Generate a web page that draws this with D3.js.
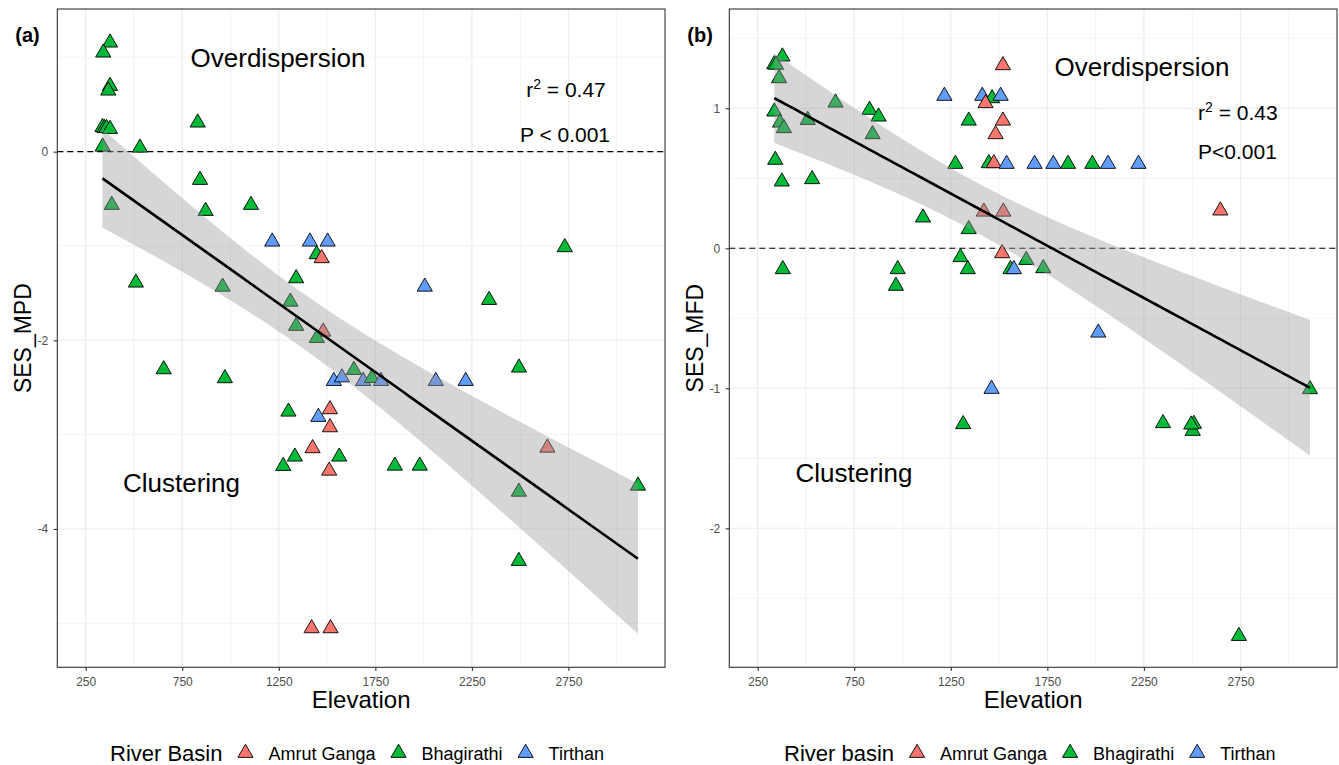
<!DOCTYPE html>
<html>
<head>
<meta charset="utf-8">
<script src="https://cdn.jsdelivr.net/npm/d3@7"></script>
<style>
  body { margin: 0; background: #fff; }
  text { font-family: "Liberation Sans", Arial, sans-serif; }
</style>
</head>
<body>
<svg id="chart" width="1339" height="765"></svg>
<script>
const basins = ['Amrut Ganga', 'Bhagirathi', 'Tirthan']
const basinColours = ['#F8766D', '#00BA38', '#619CFF']
const xTicks = [250, 750, 1250, 1750, 2250, 2750]

// (a) SES_MPD against elevation. basin: 0 Amrut Ganga, 1 Bhagirathi, 2 Tirthan
const mpdElev = [376, 341, 376, 367, 337, 347, 358, 376, 338, 531, 830, 842, 385, 871, 1106,
  1216, 1411, 1503, 1446, 1472, 510, 959, 1340, 1310, 1340, 1480, 1447, 654, 971, 1639,
  1535, 1577, 1687, 1732, 1780, 2063, 2218, 2494, 1300, 1515, 1455, 1515, 1425, 1333, 1273,
  1563, 1511, 1420, 1518, 2006, 2339, 2731, 1851, 1980, 2641, 2493, 3110, 2493]
const mpdValue = [1.156, 1.050, 0.697, 0.647, 0.26, 0.25, 0.25, 0.24, 0.053, 0.042, 0.308, -0.30, -0.565, -0.629, -0.565,
  -0.954, -0.954, -0.954, -1.088, -1.130, -1.389, -1.432, -1.343, -1.591, -1.848, -1.909, -1.976, -2.308, -2.403, -2.315,
  -2.432, -2.394, -2.432, -2.40, -2.432, -2.432, -2.432, -2.29, -2.757, -2.732, -2.813, -2.923, -3.145, -3.234, -3.333,
  -3.234, -3.383, -5.054, -5.054, -1.432, -1.573, -1.014, -3.33, -3.33, -3.139, -3.606, -3.542, -4.340]
const mpdBasin = [1, 1, 1, 1, 1, 1, 1, 1, 1, 1, 1, 1, 1, 1, 1,
  2, 2, 2, 1, 0, 1, 1, 1, 1, 1, 0, 1, 1, 1, 1,
  2, 2, 2, 1, 2, 2, 2, 1, 1, 0, 2, 0, 0, 1, 1,
  1, 0, 0, 0, 2, 1, 1, 1, 1, 0, 1, 1, 1]

// (b) SES_MFD against elevation
const mfdElev = [378, 336, 345, 361, 336, 366, 386, 509, 653, 829, 876, 845, 341, 375, 532,
  1106, 1343, 1274, 1343, 1217, 1413, 1464, 1430, 1508, 1520, 1520, 1482, 1447, 1473, 1539,
  1684, 1781, 1857, 1983, 2064, 2222, 1421, 1522, 1516, 1641, 1300, 1338, 1559, 1577, 380,
  975, 966, 1729, 2646, 2014, 1461, 1314, 2349, 2509, 2503, 3110, 2742, 2495]
const mfdValue = [1.369, 1.314, 1.31, 1.214, 0.976, 0.897, 0.857, 0.916, 1.04, 0.988, 0.94, 0.814, 0.631, 0.476, 0.493,
  0.219, 0.136, 0.602, 0.911, 1.088, 1.088, 1.071, 1.036, 1.088, 1.307, 0.911, 0.814, 0.607, 0.607, 0.602,
  0.602, 0.602, 0.602, 0.602, 0.602, 0.602, 0.261, 0.261, -0.036, -0.084, -0.064, -0.15, -0.15, -0.15, -0.15,
  -0.15, -0.269, -0.143, 0.269, -0.603, -1.005, -1.257, -1.25, -1.255, -1.305, -1.007, -2.77, -1.26]
const mfdBasin = [1, 1, 1, 1, 1, 1, 1, 1, 1, 1, 1, 1, 1, 1, 1,
  1, 1, 1, 1, 2, 2, 1, 0, 2, 0, 0, 0, 1, 0, 2,
  2, 2, 1, 1, 2, 2, 0, 0, 0, 1, 1, 1, 1, 2, 1,
  1, 1, 1, 0, 2, 2, 1, 1, 1, 1, 1, 1, 1]

const svg = d3.select('#chart')
const panelTop = 9
const panelBottom = 667.3
const panelWidth = 607.7
const triangle = d3.symbol(d3.symbolTriangle, 100)

function linearFit(xs, ys) {
  const n = xs.length
  const mx = d3.mean(xs)
  const my = d3.mean(ys)
  let sxx = 0, sxy = 0
  xs.forEach((x, i) => {
    sxx += (x - mx) ** 2
    sxy += (x - mx) * (ys[i] - my)
  })
  const slope = sxy / sxx
  const intercept = my - slope * mx
  let sse = 0
  xs.forEach((x, i) => { sse += (ys[i] - intercept - slope * x) ** 2 })
  const s = Math.sqrt(sse / (n - 2))
  return { slope, intercept, mx, sxx, s, n }
}

function drawPanel(p) {
  const g = svg.append('g')
  const x = d3.scaleLinear().domain([103, 3250]).range([p.left, p.left + panelWidth])
  const y = d3.scaleLinear().domain(p.yDomain).range([panelBottom, panelTop])

  // grid
  const xMinor = d3.range(500, 3251, 500)
  g.selectAll('.xminor').data(xMinor).join('line')
    .attr('x1', d => x(d)).attr('x2', d => x(d))
    .attr('y1', panelTop).attr('y2', panelBottom)
    .attr('stroke', '#ebebeb').attr('stroke-width', 0.6)
  g.selectAll('.yminor').data(p.yMinor).join('line')
    .attr('x1', p.left).attr('x2', p.left + panelWidth)
    .attr('y1', d => y(d)).attr('y2', d => y(d))
    .attr('stroke', '#ebebeb').attr('stroke-width', 0.6)
  g.selectAll('.xmajor').data(xTicks).join('line')
    .attr('x1', d => x(d)).attr('x2', d => x(d))
    .attr('y1', panelTop).attr('y2', panelBottom)
    .attr('stroke', '#ebebeb').attr('stroke-width', 1.1)
  g.selectAll('.ymajor').data(p.yTicks).join('line')
    .attr('x1', p.left).attr('x2', p.left + panelWidth)
    .attr('y1', d => y(d)).attr('y2', d => y(d))
    .attr('stroke', '#ebebeb').attr('stroke-width', 1.1)

  // reference line at zero
  g.append('line')
    .attr('x1', p.left).attr('x2', p.left + panelWidth)
    .attr('y1', y(0)).attr('y2', y(0))
    .attr('stroke', '#000').attr('stroke-width', 1.2)
    .attr('stroke-dasharray', '6,4')

  // points
  const pts = p.elev.map((e, i) => ({ e, v: p.value[i], b: p.basin[i] }))
  g.selectAll('.pt').data(pts).join('path')
    .attr('d', triangle)
    .attr('transform', d => `translate(${x(d.e)},${y(d.v)})`)
    .attr('fill', d => basinColours[d.b])
    .attr('stroke', '#000').attr('stroke-width', 0.9)

  // lm fit with 95% band
  const fit = linearFit(p.elev, p.value)
  const tCrit = 2.004
  const [xmin, xmax] = d3.extent(p.elev)
  const xs = d3.range(0, 81).map(i => xmin + (xmax - xmin) * i / 80)
  const band = xs.map(xv => {
    const f = fit.intercept + fit.slope * xv
    const se = fit.s * Math.sqrt(1 / fit.n + (xv - fit.mx) ** 2 / fit.sxx)
    return { xv, f, lo: f - tCrit * se, hi: f + tCrit * se }
  })
  g.append('path').datum(band)
    .attr('d', d3.area().x(d => x(d.xv)).y0(d => y(d.lo)).y1(d => y(d.hi)))
    .attr('fill', '#999999').attr('fill-opacity', 0.4)
  g.append('path').datum(band)
    .attr('d', d3.line().x(d => x(d.xv)).y(d => y(d.f)))
    .attr('fill', 'none').attr('stroke', '#000').attr('stroke-width', 2.6)

  // border
  g.append('rect')
    .attr('x', p.left).attr('y', panelTop)
    .attr('width', panelWidth).attr('height', panelBottom - panelTop)
    .attr('fill', 'none').attr('stroke', '#333').attr('stroke-width', 1.1)

  // axes
  const xAxis = g.append('g').attr('transform', `translate(0,${panelBottom})`)
    .call(d3.axisBottom(x).tickValues(xTicks).tickSize(3.7).tickPadding(6).tickFormat(d => String(d)))
  const yAxis = g.append('g').attr('transform', `translate(${p.left},0)`)
    .call(d3.axisLeft(y).tickValues(p.yTicks).tickSize(3.7).tickPadding(5.3).tickFormat(d => String(d)))
  ;[xAxis, yAxis].forEach(a => {
    a.select('.domain').remove()
    a.selectAll('.tick line').attr('stroke', '#333').attr('stroke-width', 1.1)
    a.selectAll('.tick text').attr('fill', '#4d4d4d').style('font-size', '12px')
      .style('font-family', '"Liberation Sans", Arial, sans-serif')
  })

  // axis titles
  g.append('text').attr('x', p.left + panelWidth / 2).attr('y', 708)
    .attr('text-anchor', 'middle').style('font-size', '24px').text('Elevation')
  g.append('text')
    .attr('transform', `translate(${p.left - 26},${(panelTop + panelBottom) / 2}) rotate(-90)`)
    .attr('text-anchor', 'middle').style('font-size', '23px').text(p.ylabel)

  // panel letter
  g.append('text').attr('x', p.left - 42).attr('y', 41.5)
    .style('font-size', '20px').style('font-weight', 'bold').text(p.letter)

  // annotations
  g.append('text').attr('x', p.over[0]).attr('y', p.over[1])
    .attr('text-anchor', 'middle').style('font-size', '26px').text('Overdispersion')
  g.append('text').attr('x', p.clus[0]).attr('y', p.clus[1])
    .attr('text-anchor', 'middle').style('font-size', '26px').text('Clustering')
  const r2 = g.append('text').attr('x', p.r2[0]).attr('y', p.r2[1])
    .attr('text-anchor', p.anchor).style('font-size', '21px')
  r2.append('tspan').text('r')
  r2.append('tspan').attr('dy', -8).style('font-size', '14px').text('2')
  r2.append('tspan').attr('dy', 8).text(' = ' + p.r2Text)
  g.append('text').attr('x', p.pv[0]).attr('y', p.pv[1])
    .attr('text-anchor', p.anchor).style('font-size', '21px').text(p.pText)

  // legend
  const lg = g.append('g')
  let cx = p.legendLeft
  const title = lg.append('text').attr('x', cx).attr('y', 761)
    .style('font-size', '22px').text(p.legendTitle)
  cx += title.node().getComputedTextLength() + 23
  basins.forEach((b, i) => {
    lg.append('path').attr('d', triangle)
      .attr('transform', `translate(${cx},753)`)
      .attr('fill', basinColours[i]).attr('stroke', '#000').attr('stroke-width', 0.9)
    const t = lg.append('text').attr('x', cx + 23).attr('y', 760)
      .style('font-size', '18px').text(b)
    cx += 23 + t.node().getComputedTextLength() + 23
  })
}

drawPanel({
  left: 57.3, yDomain: [-5.467, 1.513], yTicks: [0, -2, -4], yMinor: [1, -1, -3, -5],
  elev: mpdElev, value: mpdValue, basin: mpdBasin,
  ylabel: 'SES_MPD', letter: '(a)', legendTitle: 'River Basin', legendLeft: 110,
  over: [278, 67], clus: [181.5, 492], r2: [566, 97], pv: [565, 142], anchor: 'middle',
  r2Text: '0.47', pText: 'P < 0.001'
})

drawPanel({
  left: 729.3, yDomain: [-2.993, 1.709], yTicks: [1, 0, -1, -2], yMinor: [1.5, 0.5, -0.5, -1.5, -2.5],
  elev: mfdElev, value: mfdValue, basin: mfdBasin,
  ylabel: 'SES_MFD', letter: '(b)', legendTitle: 'River basin', legendLeft: 784,
  over: [1142, 76], clus: [854, 482], r2: [1198, 119.5], pv: [1198, 158.5], anchor: 'start',
  r2Text: '0.43', pText: 'P<0.001'
})
</script>
</body>
</html>
